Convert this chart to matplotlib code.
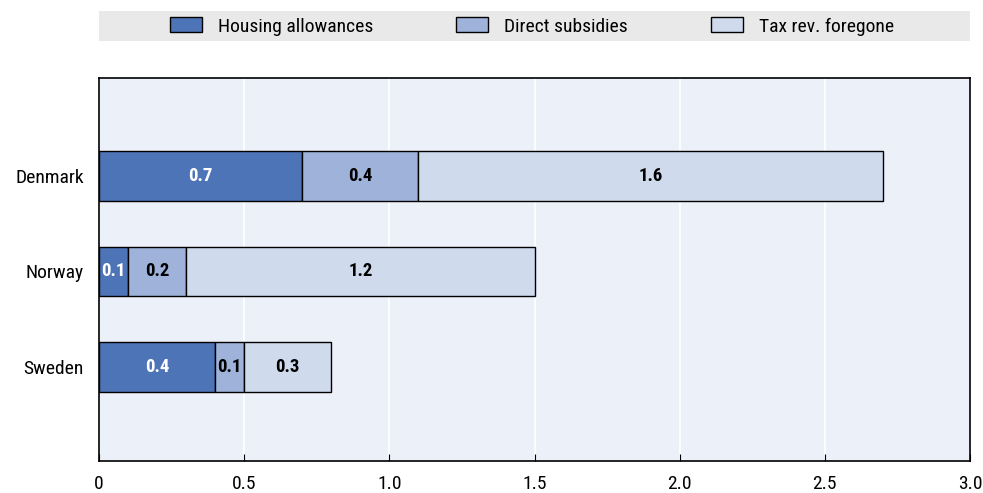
import matplotlib
matplotlib.use('Agg')
import matplotlib.pyplot as plt
from matplotlib.patches import Patch, Rectangle
from matplotlib import font_manager
import numpy as np

# data
countries = ['Denmark', 'Norway', 'Sweden']
series = ['Housing allowances', 'Direct subsidies', 'Tax rev. foregone']
housing = [0.7, 0.1, 0.4]
direct = [0.4, 0.2, 0.1]
tax = [1.6, 1.2, 0.3]
xticks = [0, 0.5, 1.0, 1.5, 2.0, 2.5, 3.0]
xticklabels = ['0', '0.5', '1.0', '1.5', '2.0', '2.5', '3.0']

colors = ['#4e74b8', '#9fb3da', '#cfdaec']
textcolors = ['white', 'black', 'black']

# pick a narrow font if there is one
fl = font_manager.fontManager.ttflist
names = {f.name for f in fl}
stretch = 'normal'
fam = 'Liberation Sans'
for n in ['Liberation Sans Narrow', 'Roboto Condensed', 'Open Sans Condensed', 'DejaVu Sans Condensed']:
    if n in names:
        fam = n
        break
else:
    if any(f.name == 'DejaVu Sans' and str(f.stretch) in ('condensed', '500', 'semi-condensed') for f in fl):
        fam = 'DejaVu Sans'
        stretch = 'condensed'
plt.rcParams['font.family'] = [fam, 'DejaVu Sans']
plt.rcParams['font.stretch'] = stretch

fs = 14

fig = plt.figure(figsize=(9.83, 4.93), dpi=100)
ax = fig.add_axes([99 / 983, 1 - 461 / 493, 871 / 983, 383 / 493])
ax.set_facecolor('#ecf0f8')

y = np.arange(len(countries))
left = np.zeros(len(countries))
for vals, c, tc in zip([housing, direct, tax], colors, textcolors):
    bars = ax.barh(y, vals, left=left, height=0.52, color=c,
                   edgecolor='black', linewidth=1.0, zorder=3)
    for b, v in zip(bars, vals):
        ax.text(b.get_x() + b.get_width() / 2, b.get_y() + b.get_height() / 2,
                '%.1f' % v, ha='center', va='center', color=tc,
                fontsize=13.5, fontweight='bold', zorder=4)
    left = left + np.array(vals)

ax.set_xlim(0, 3.0)
ax.set_ylim(2.98, -1.02)
ax.set_yticks(y)
ax.set_yticklabels(countries, fontsize=fs)
ax.set_xticks(xticks)
ax.set_xticklabels(xticklabels, fontsize=fs)
ax.tick_params(axis='y', length=0, pad=11)
ax.tick_params(axis='x', direction='in', length=5, pad=10, color='black')
ax.grid(axis='x', color='white', linewidth=1.2, zorder=0)
ax.set_axisbelow(True)
for s in ax.spines.values():
    s.set_color('black')
    s.set_linewidth(1.2)

# gray legend strip
fig.patches.append(Rectangle((99 / 983, 1 - 41 / 493), 871 / 983, 30 / 493,
                             transform=fig.transFigure, facecolor='#e9e9e9',
                             edgecolor='none', zorder=0))
handles = [Patch(facecolor=c, edgecolor='black', linewidth=1.0) for c in colors]
leg = fig.legend(handles, series, loc='center',
                 bbox_to_anchor=(532 / 983, 1 - 26.5 / 493),
                 ncol=3, frameon=False, fontsize=fs,
                 handlelength=1.65, handleheight=0.82, handletextpad=0.82,
                 columnspacing=4.27)

fig.savefig('out.png', dpi=100)
